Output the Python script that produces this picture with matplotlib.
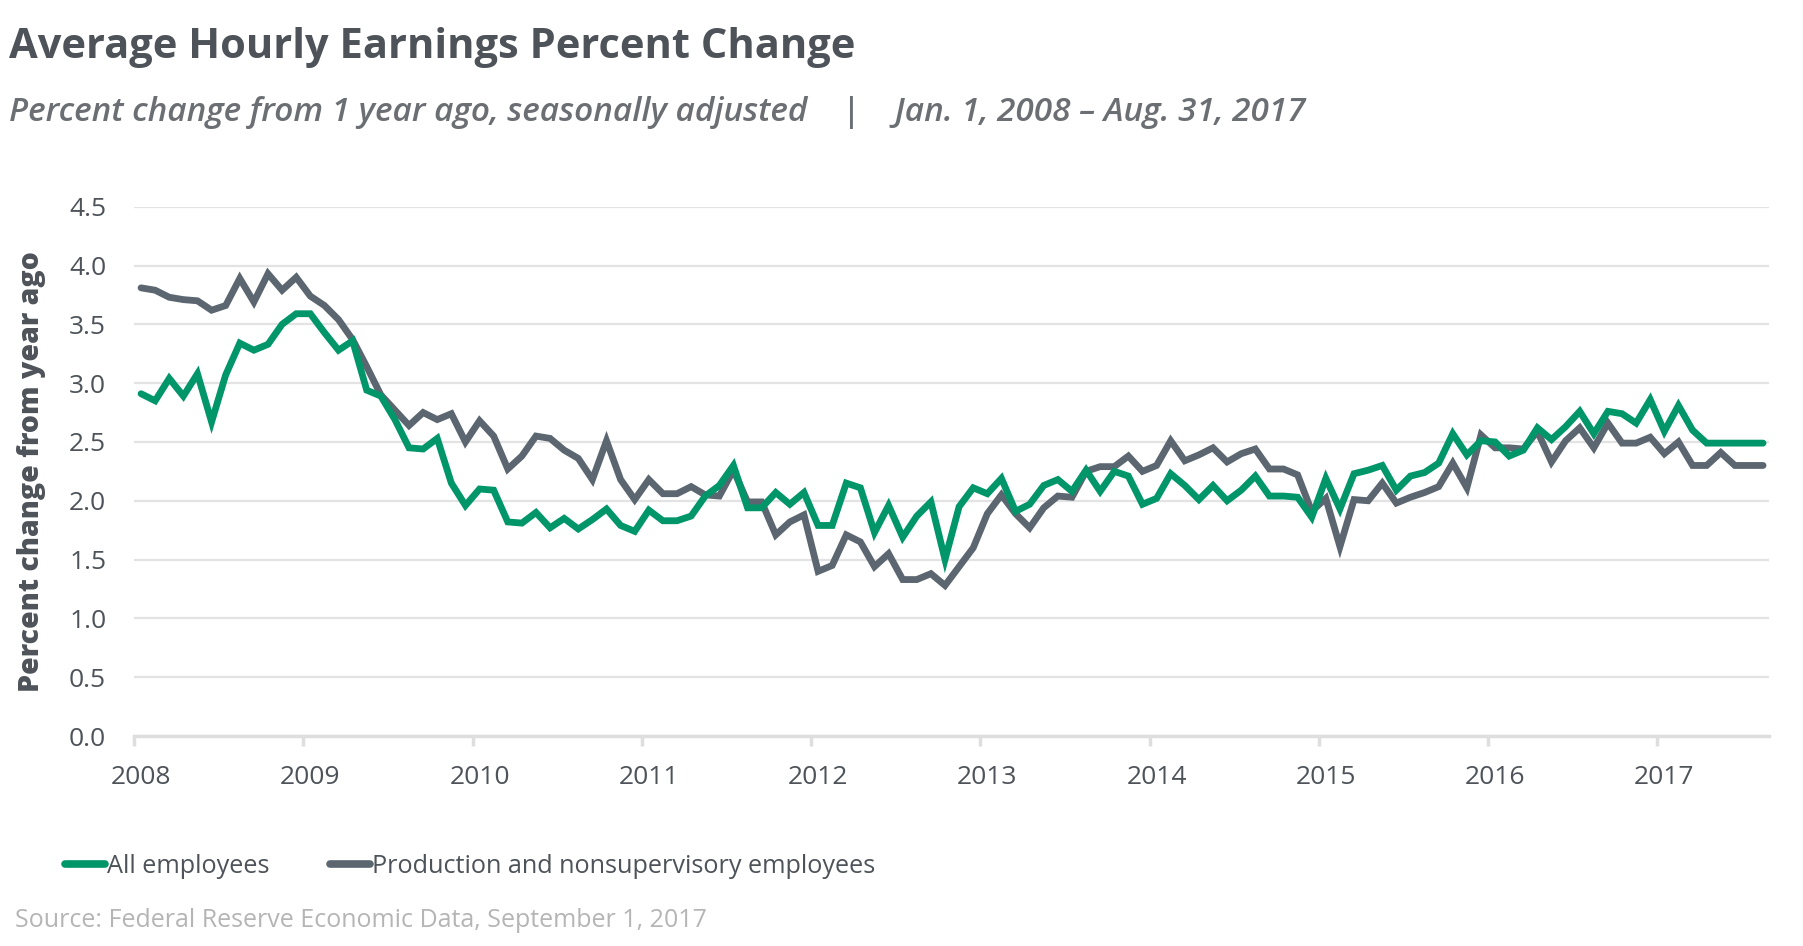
import matplotlib
matplotlib.use('Agg')
import matplotlib.pyplot as plt
import numpy as np

plt.rcParams['font.family'] = ['Open Sans', 'DejaVu Sans']

# monthly values, Jan 2008 - Aug 2017 (percent change from 1 year ago)
start_year = 2008
all_employees = [
    2.91, 2.85, 3.04, 2.89, 3.08, 2.67, 3.07, 3.34, 3.28, 3.33, 3.50, 3.59,
    3.59, 3.43, 3.28, 3.36, 2.94, 2.89, 2.69, 2.45, 2.44, 2.53, 2.15, 1.96,
    2.10, 2.09, 1.82, 1.81, 1.90, 1.77, 1.85, 1.76, 1.84, 1.93, 1.79, 1.74,
    1.92, 1.83, 1.83, 1.87, 2.04, 2.13, 2.30, 1.94, 1.94, 2.07, 1.97, 2.07,
    1.79, 1.79, 2.15, 2.11, 1.73, 1.96, 1.69, 1.87, 1.99, 1.50, 1.95, 2.11,
    2.06, 2.19, 1.91, 1.97, 2.13, 2.18, 2.08, 2.26, 2.08, 2.25, 2.21, 1.97,
    2.02, 2.23, 2.13, 2.01, 2.13, 2.00, 2.09, 2.21, 2.04, 2.04, 2.03, 1.86,
    2.19, 1.93, 2.23, 2.26, 2.30, 2.09, 2.21, 2.24, 2.32, 2.57, 2.39, 2.51,
    2.50, 2.38, 2.43, 2.62, 2.52, 2.63, 2.76, 2.57, 2.76, 2.74, 2.66, 2.86,
    2.59, 2.81, 2.60, 2.49, 2.49, 2.49, 2.49, 2.49,
]
production = [
    3.81, 3.79, 3.73, 3.71, 3.70, 3.62, 3.66, 3.89, 3.69, 3.93, 3.79, 3.90,
    3.74, 3.66, 3.54, 3.37, 3.14, 2.90, 2.77, 2.64, 2.75, 2.69, 2.74, 2.50,
    2.68, 2.55, 2.27, 2.38, 2.55, 2.53, 2.43, 2.36, 2.18, 2.51, 2.18, 2.01,
    2.18, 2.06, 2.06, 2.12, 2.05, 2.04, 2.26, 1.99, 1.99, 1.71, 1.82, 1.88,
    1.40, 1.45, 1.71, 1.65, 1.44, 1.55, 1.33, 1.33, 1.38, 1.28, 1.44, 1.60,
    1.89, 2.05, 1.89, 1.77, 1.94, 2.04, 2.03, 2.25, 2.29, 2.29, 2.38, 2.25,
    2.30, 2.51, 2.34, 2.39, 2.45, 2.33, 2.40, 2.44, 2.27, 2.27, 2.22, 1.91,
    2.02, 1.61, 2.01, 2.00, 2.15, 1.98, 2.03, 2.07, 2.12, 2.32, 2.11, 2.56,
    2.45, 2.45, 2.44, 2.59, 2.33, 2.51, 2.62, 2.45, 2.66, 2.49, 2.49, 2.54,
    2.40, 2.50, 2.30, 2.30, 2.41, 2.30, 2.30, 2.30,
]
years = list(range(2008, 2018))
y_ticks = [0.0, 0.5, 1.0, 1.5, 2.0, 2.5, 3.0, 3.5, 4.0, 4.5]

GREEN = '#00966a'
SLATE = '#5b6670'
TEXT = '#4d5359'

# points sit mid-month
x = start_year + (np.arange(len(production)) + 0.5) / 12

fig = plt.figure(figsize=(18.03, 9.46), dpi=100)
ax = fig.add_axes([134 / 1803, 1 - 736 / 946, (1769 - 134) / 1803, (736 - 206.7) / 946])

ax.plot(x, all_employees, color=GREEN, lw=4.9, solid_joinstyle='miter',
        solid_capstyle='round', label='All employees', zorder=3)
ax.plot(x, production, color=SLATE, lw=4.9, solid_joinstyle='miter',
        solid_capstyle='round', label='Production and nonsupervisory employees', zorder=2)

ax.set_xlim(2008, 2017.66)
ax.set_ylim(0, 4.5)
ax.set_yticks(y_ticks)
ax.set_yticklabels([f'{v:.1f}' for v in y_ticks])
ax.yaxis.grid(True, color='#e3e3e3', lw=1.6)
ax.set_axisbelow(True)
for s in ['top', 'right', 'left']:
    ax.spines[s].set_visible(False)
ax.spines['bottom'].set_color('#dedede')
ax.spines['bottom'].set_linewidth(2.5)
ax.spines['bottom'].set_zorder(1)

# year ticks at Jan 1, labels at mid-January
ax.set_xticks(years)
ax.set_xticklabels([])
ax.tick_params(axis='x', which='major', length=7, width=2.5, color='#dedede', direction='out')
ax.set_xticks([yr + 0.5 / 12 for yr in years], minor=True)
ax.set_xticklabels([str(yr) for yr in years], minor=True)
ax.tick_params(axis='x', which='minor', length=0, pad=21, labelsize=19, labelcolor=TEXT)
ax.tick_params(axis='y', length=0, pad=20, labelsize=19, labelcolor=TEXT)

ax.set_ylabel('Percent change from year ago', fontsize=20.5, fontweight='heavy',
              color=TEXT)
ax.yaxis.set_label_coords(-0.054, 0.5)

fig.text(0.005, 0.9387, 'Average Hourly Earnings Percent Change', fontsize=30,
         fontweight='bold', color=TEXT, ha='left', va='baseline')
fig.text(0.005, 0.872, 'Percent change from 1 year ago, seasonally adjusted    |    '
         'Jan. 1, 2008 \u2013 Aug. 31, 2017', fontsize=24, style='italic',
         fontweight='semibold', color='#6b6f73', ha='left', va='baseline')

leg = ax.legend(loc='center left', bbox_to_anchor=(65 / 1803, 1 - 866 / 946),
                bbox_transform=fig.transFigure, ncol=2, frameon=False,
                fontsize=18.2, handlelength=1.6, handletextpad=0.05,
                columnspacing=2.4, borderaxespad=0, borderpad=0)
for t in leg.get_texts():
    t.set_color(TEXT)
for h in leg.get_lines():
    h.set_linewidth(5.5)
    h.set_solid_capstyle('round')

fig.text(15 / 1803, 1 - 920 / 946, 'Source: Federal Reserve Economic Data, September 1, 2017',
         fontsize=18, color='#b5b5b5', ha='left', va='center')

fig.savefig('out.png', dpi=100, facecolor='white')
